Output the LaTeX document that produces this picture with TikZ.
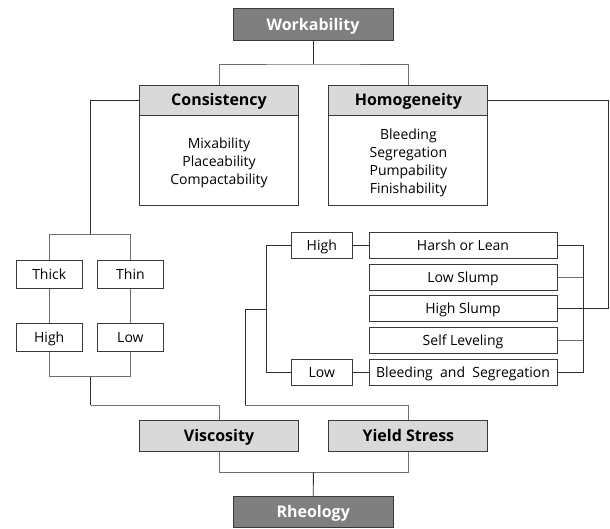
\documentclass[tikz,border=0pt]{standalone}
\usepackage{fontspec}
\setmainfont{Open Sans}
\definecolor{darkfill}{HTML}{7F7F7F}
\definecolor{lightfill}{HTML}{D9D9D9}
\definecolor{edge}{HTML}{3A3A3A}
\definecolor{linedark}{HTML}{2E2E2E}
\definecolor{linegray}{HTML}{6E6E6E}
\newcommand{\topstrut}{\rule{0pt}{15pt}}
\begin{document}
\begin{tikzpicture}[x=1pt,y=-1pt,
  box/.style={draw=edge,line width=0.9pt,rectangle,inner sep=0pt,anchor=center},
  bigline/.style={text height=14.4pt,text depth=2.9pt},
  smallline/.style={text height=12.6pt,text depth=2.5pt},
  topbox/.style={box,bigline,fill=darkfill,text=white,font=\fontsize{16}{19}\selectfont\bfseries,minimum width=160pt,minimum height=32pt},
  headbox/.style={box,bigline,fill=lightfill,font=\fontsize{16}{19}\selectfont\bfseries,minimum width=159pt,minimum height=30pt},
  bodybox/.style={box,fill=white,font=\fontsize{14}{18}\selectfont,align=center,minimum width=159pt,minimum height=90pt},
  smallbox/.style={box,smallline,font=\fontsize{14}{17}\selectfont,minimum width=66pt,minimum height=28pt},
  tagbox/.style={box,smallline,font=\fontsize{14}{17}\selectfont,minimum width=61pt,minimum height=26pt},
  longbox/.style={box,smallline,font=\fontsize{14}{17}\selectfont,minimum width=188pt,minimum height=26pt},
  conn/.style={draw=linedark,line width=0.9pt},
  connl/.style={draw=linegray,line width=0.9pt}]
\useasboundingbox (0,0) rectangle (610,529);
% top
\node[topbox] (work) at (313,24.5) {Workability};
\node[headbox] (cons) at (219,100) {Consistency};
\node[bodybox] (consb) at (219,160.2) {\topstrut Mixability\\Placeability\\Compactability};
\node[headbox] (homo) at (408.4,100) {Homogeneity};
\node[bodybox] (homob) at (408.4,160.2) {\topstrut Bleeding\\Segregation\\Pumpability\\Finishability};
% left tree
\node[smallbox] (thick) at (49.2,274.2) {Thick};
\node[smallbox] (thin) at (130.4,274.2) {Thin};
\node[smallbox] (high) at (49.2,337.3) {High};
\node[smallbox] (low) at (130.4,337.3) {Low};
% bottom
\node[headbox,minimum height=31pt] (visc) at (219,436.2) {Viscosity};
\node[headbox,minimum height=31pt] (yield) at (408.4,436.2) {Yield Stress};
\node[topbox,minimum height=31pt] (rheo) at (313.2,512) {Rheology};
% right cluster
\node[tagbox] (hi) at (321.8,245) {High};
\node[tagbox] (lo) at (321.8,372.7) {Low};
\node[longbox] (harsh) at (463,245) {Harsh or Lean};
\node[longbox] (lslump) at (463,277.5) {Low Slump};
\node[longbox] (hslump) at (463,308.4) {High Slump};
\node[longbox] (self) at (463,340) {Self Leveling};
\node[longbox] (bleed) at (463,372.7) {Bleeding\ \ and\ \ Segregation};
% junction coordinates
\coordinate (j1) at (313,64);
\coordinate (jl1) at (90.5,234.6);
\coordinate (jl2) at (90.5,376.6);
\coordinate (jl3) at (90.5,405);
\coordinate (jb) at (313.4,472.3);
\coordinate (jr) at (266.5,309.3);
\coordinate (jr2) at (245,309.3);
\coordinate (jr3) at (245,405);
\coordinate (jRt) at (583.4,245);
\coordinate (jRb) at (583.4,372.7);
\coordinate (jH) at (608.8,308.4);
% connectors: top
\draw[conn] (work.south) -- (j1);
\draw[connl] (cons.north) |- (j1) -| (homo.north);
% left
\draw[conn] (cons.west) -| (jl1);
\draw[connl] (thick.north) |- (jl1) -| (thin.north);
\draw[connl] (thick.south) -- (high.north);
\draw[connl] (thin.south) -- (low.north);
\draw[connl] (high.south) |- (jl2) -| (low.south);
\draw[conn] (jl2) -- (jl3);
\draw[connl] (jl3) -| (visc.north);
% bottom
\draw[connl] (visc.south) |- (jb) -| (yield.south);
\draw[conn] (jb) -- (rheo.north);
% right cluster
\draw[conn] (hi.west) -| (jr) |- (lo.west);
\draw[conn] (jr) -- (jr2) -- (jr3);
\draw[connl] (jr3) -| (yield.north);
\draw[conn] (hi.east) -- (harsh.west);
\draw[conn] (lo.east) -- (bleed.west);
\draw[conn] (harsh.east) -- (jRt) -- (jRb) -- (bleed.east);
\draw[connl] (lslump.east) -- (lslump.east -| jRt);
\draw[connl] (self.east) -- (self.east -| jRt);
\draw[conn] (homo.east) -| (jH) -- (hslump.east);
\end{tikzpicture}
\end{document}
